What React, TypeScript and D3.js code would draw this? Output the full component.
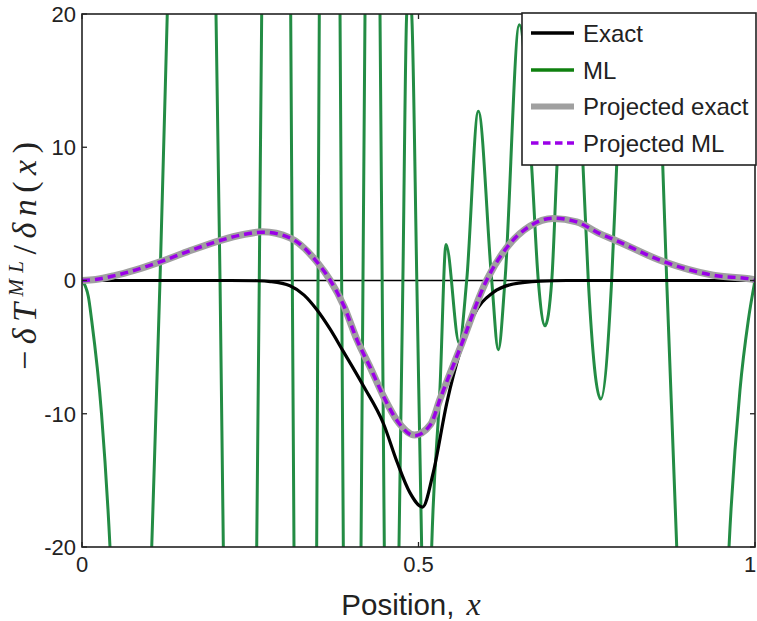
import React from "react";
import * as d3 from "d3";

const xTicks = [0, 0.5, 1];
const xTickLabels = ["0", "0.5", "1"];
const yTicks = [-20, -10, 0, 10, 20];
const yTickLabels = ["-20", "-10", "0", "10", "20"];

const legendLabels = ["Exact", "ML", "Projected exact", "Projected ML"];

const exactX = [0, 0.15, 0.22, 0.26, 0.28, 0.309, 0.33, 0.349, 0.368, 0.388, 0.418, 0.448, 0.468, 0.487, 0.506, 0.522, 0.542, 0.562, 0.581, 0.611, 0.641, 0.681, 0.72, 1];
const exactY = [0, 0, 0, -0.02, -0.08, -0.4, -1.1, -2.2, -3.6, -5.3, -7.9, -10.75, -13.6, -15.9, -17.0, -14.4, -9.2, -5.3, -2.7, -0.9, -0.26, -0.05, 0, 0];

const mlPoints: [number, number][] = [
  [0, 0], [0.0094, -1.2], [0.0144, -3], [0.029, -10], [0.0416, -20], [0.073, -70], [0.1036, -20],
  [0.1159, 0], [0.1267, 20], [0.163, 90], [0.1991, 20], [0.2051, 0], [0.21, -20], [0.235, -100],
  [0.2596, -20], [0.2634, 0], [0.267, 20], [0.2885, 100], [0.3101, 20], [0.3125, 0], [0.315, -20],
  [0.332, -100], [0.3487, -20], [0.3507, 0], [0.3526, 20], [0.368, 100], [0.3834, 20], [0.3858, 0],
  [0.3883, -20], [0.4015, -90], [0.4146, -20], [0.4175, 0], [0.4205, 20], [0.4316, 80], [0.4428, 20],
  [0.446, 0], [0.4492, -20], [0.46, -60], [0.471, -20], [0.4768, 0], [0.4825, 20], [0.4865, 21.5],
  [0.4899, 20], [0.4975, 0], [0.5047, -20], [0.512, -36], [0.5196, -20], [0.532, -8], [0.5409, 2.7],
  [0.5606, -4.7], [0.5716, 0], [0.5889, 12.7], [0.6088, 0], [0.6186, -5.2], [0.6285, 0], [0.6498, 19.2],
  [0.668, 8.66], [0.678, 0], [0.688, -3.4], [0.698, 0], [0.7058, 8.66], [0.7245, 24], [0.7444, 8.66],
  [0.7523, 0], [0.7707, -8.9], [0.787, 0], [0.7945, 8.66], [0.8287, 45], [0.8629, 8.66], [0.8688, 0],
  [0.8837, -20], [0.9225, -90], [0.9614, -20], [0.9777, -8.2], [0.99, -3], [1, 0],
];

const projExactX = [0, 0.02, 0.047, 0.08, 0.116, 0.156, 0.205, 0.24, 0.268, 0.309, 0.349, 0.369, 0.389, 0.409, 0.429, 0.448, 0.468, 0.494, 0.518, 0.532, 0.562, 0.601, 0.631, 0.666, 0.7, 0.735, 0.77, 0.789, 0.864, 0.938, 0.997, 1];
const projExactY = [0, 0.08, 0.35, 0.8, 1.4, 2.15, 3.0, 3.45, 3.65, 3.2, 1.4, 0, -1.9, -4.5, -6.6, -8.7, -10.5, -11.6, -10.8, -8.9, -5.05, 0, 2.46, 4.1, 4.66, 4.4, 3.5, 3.1, 1.42, 0.39, 0.08, 0];

const projMlX = [0, 0.02, 0.047, 0.08, 0.116, 0.156, 0.205, 0.24, 0.268, 0.309, 0.349, 0.369, 0.389, 0.409, 0.429, 0.448, 0.468, 0.494, 0.518, 0.532, 0.562, 0.601, 0.631, 0.666, 0.7, 0.735, 0.77, 0.789, 0.864, 0.938, 0.997, 1];
const projMlY = [0, 0.08, 0.35, 0.8, 1.4, 2.15, 3.0, 3.45, 3.63, 3.2, 1.4, 0, -1.9, -4.5, -6.6, -8.7, -10.5, -11.65, -10.8, -8.9, -5.05, 0, 2.46, 4.1, 4.68, 4.4, 3.5, 3.1, 1.42, 0.39, 0.08, 0];

const SANS = "'Liberation Sans', Arial, sans-serif";
const SERIF = "'Liberation Serif', 'Times New Roman', serif";
const TEXT = "#222";

export default function App() {
  const W = 757, H = 621;
  const L = 82, R = 755, T = 14, B = 547;
  const x = d3.scaleLinear().domain([0, 1]).range([L, R]);
  const y = d3.scaleLinear().domain([-20, 20]).range([B, T]);

  const pathXY = (xs: number[], ys: number[]) =>
    d3.line<number>().x((d) => x(d)).y((_, i) => y(ys[i])).curve(d3.curveMonotoneX)(xs) || "";
  const pathPts = (pts: [number, number][]) =>
    d3.line<[number, number]>().x((d) => x(d[0])).y((d) => y(d[1])).curve(d3.curveMonotoneX)(pts) || "";

  const green = "#238c44";
  const styles = [
    { color: "#000", width: 3.2, dash: undefined as string | undefined, legendColor: "#000" },
    { color: green, width: 3, dash: undefined, legendColor: "#0f800f" },
    { color: "#a0a0a0", width: 7, dash: undefined, legendColor: "#a0a0a0" },
    { color: "#9b00e8", width: 3.5, dash: "8,5", legendColor: "#9b00e8" },
  ];

  const tickLen = 5;
  const legX0 = 522, legX1 = 756, legY0 = 13, legY1 = 165;
  const rowY = [33, 70, 106.5, 143];

  return (
    <svg width={W} height={H} style={{ position: "absolute", left: 0, top: 0, background: "#fff" }}>
      <defs>
        <clipPath id="plotclip">
          <rect x={L} y={T} width={R - L} height={B - T} />
        </clipPath>
      </defs>
      <rect x={0} y={0} width={W} height={H} fill="#fff" />
      <g clipPath="url(#plotclip)">
        <line x1={L} x2={R} y1={y(0)} y2={y(0)} stroke="#000" strokeWidth={1.6} />
        <path d={pathPts(mlPoints)} fill="none" stroke={styles[1].color} strokeWidth={styles[1].width} strokeLinejoin="round" />
        <path d={pathXY(exactX, exactY)} fill="none" stroke={styles[0].color} strokeWidth={styles[0].width} />
        <path d={pathXY(projExactX, projExactY)} fill="none" stroke={styles[2].color} strokeWidth={styles[2].width} />
        <path d={pathXY(projMlX, projMlY)} fill="none" stroke={styles[3].color} strokeWidth={styles[3].width} strokeDasharray={styles[3].dash} />
      </g>

      {/* frame */}
      <rect x={L} y={T} width={R - L} height={B - T} fill="none" stroke="#222" strokeWidth={1.6} />

      {/* ticks */}
      {yTicks.map((t) => (
        <g key={"yt" + t}>
          <line x1={L} x2={L + tickLen} y1={y(t)} y2={y(t)} stroke="#222" strokeWidth={1.3} />
          <line x1={R} x2={R - tickLen} y1={y(t)} y2={y(t)} stroke="#222" strokeWidth={1.3} />
        </g>
      ))}
      {xTicks.map((t) => (
        <g key={"xt" + t}>
          <line x1={x(t)} x2={x(t)} y1={B} y2={B - tickLen} stroke="#222" strokeWidth={1.3} />
          <line x1={x(t)} x2={x(t)} y1={T} y2={T + tickLen} stroke="#222" strokeWidth={1.3} />
        </g>
      ))}

      {/* tick labels */}
      {yTicks.map((t, i) => (
        <text key={"yl" + t} x={L - 6} y={y(t)} dy="0.36em" textAnchor="end" fontFamily={SANS} fontSize={22} fill={TEXT}>
          {yTickLabels[i]}
        </text>
      ))}
      {xTicks.map((t, i) => (
        <text
          key={"xl" + t}
          x={Math.min(x(t), W - 7)}
          y={572}
          textAnchor="middle"
          fontFamily={SANS}
          fontSize={22}
          fill={TEXT}
        >
          {xTickLabels[i]}
        </text>
      ))}

      {/* x label */}
      <text x={411} y={615} textAnchor="middle" fontSize={29.5} fill={TEXT} fontFamily={SANS}>
        <tspan>Position,</tspan>
        <tspan dx={12} fontFamily={SERIF} fontStyle="italic" fontSize={32}>x</tspan>
      </text>

      {/* y label */}
      <text
        transform="translate(36,256) rotate(-90)"
        textAnchor="middle"
        fontFamily={SERIF}
        fontSize={34}
        fill={TEXT}
        textLength={228}
        lengthAdjust="spacing"
      >
        <tspan>−</tspan>
        <tspan fontStyle="italic">δT</tspan>
        <tspan fontStyle="italic" fontSize={21} dy={-13}>ML</tspan>
        <tspan dy={13}>/</tspan>
        <tspan fontStyle="italic">δn</tspan>
        <tspan>(</tspan>
        <tspan fontStyle="italic">x</tspan>
        <tspan>)</tspan>
      </text>

      {/* legend */}
      <rect x={legX0} y={legY0} width={legX1 - legX0} height={legY1 - legY0} fill="#fff" stroke="#222" strokeWidth={1.6} />
      {legendLabels.map((lab, i) => (
        <g key={lab}>
          <line
            x1={531}
            x2={574}
            y1={rowY[i]}
            y2={rowY[i]}
            stroke={styles[i].legendColor}
            strokeWidth={i === 2 ? 6 : 3.5}
            strokeDasharray={styles[i].dash ? "7.5,4.5" : undefined}
          />
          <text x={583} y={rowY[i]} dy="0.36em" fontFamily={SANS} fontSize={24} fill={TEXT}>
            {lab}
          </text>
        </g>
      ))}
    </svg>
  );
}
